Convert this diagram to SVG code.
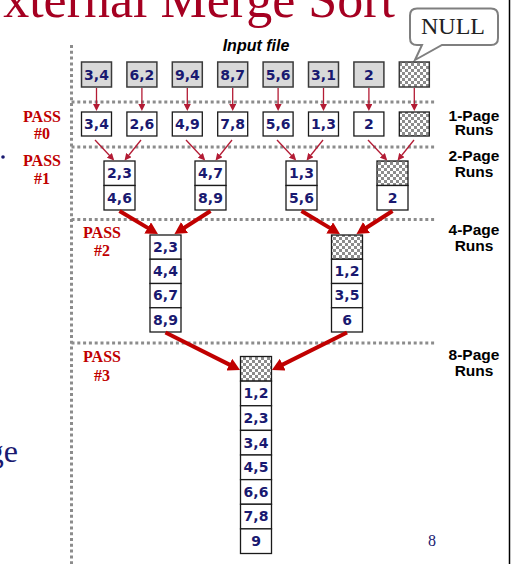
<svg xmlns="http://www.w3.org/2000/svg" width="516" height="564" viewBox="0 0 516 564">
<style>
.num{font-family:"DejaVu Sans",Verdana,sans-serif;font-weight:bold;font-size:14px;fill:#191970;text-anchor:middle}
.in{fill:#d9d9d9;stroke:#3a3a3a;stroke-width:1.5}
.cell{fill:#fff;stroke:#1a1a1a;stroke-width:1.3}
.chk{fill:url(#chk);stroke:#1a1a1a;stroke-width:1.3}
.dot{stroke:#8c8c8c;stroke-width:3;stroke-dasharray:3 2.8;fill:none}
.pass{font-family:"Liberation Serif","Times New Roman",serif;font-weight:bold;font-size:16px;fill:#C00000;text-anchor:middle}
.runs{font-family:"Liberation Sans",Arial,sans-serif;font-weight:bold;font-size:15.5px;fill:#000;text-anchor:middle}
.thin{stroke:#B31B34;stroke-width:1.3;fill:none;marker-end:url(#ah)}
.thick{stroke:#C00000;stroke-width:4;fill:none;marker-end:url(#AH)}
</style>
<defs>
<pattern id="chk" patternUnits="userSpaceOnUse" width="6" height="6">
<rect width="6" height="6" fill="#fff"/>
<rect width="3" height="3" fill="#8c8c8c"/>
<rect x="3" y="3" width="3" height="3" fill="#8c8c8c"/>
</pattern>
<marker id="ah" markerUnits="userSpaceOnUse" markerWidth="8" markerHeight="7" refX="5" refY="3.5" orient="auto">
<path d="M0,0 L7,3.5 L0,7 Z" fill="#B31B34"/>
</marker>
<marker id="AH" markerUnits="userSpaceOnUse" markerWidth="13" markerHeight="13" refX="4" refY="6.5" orient="auto">
<path d="M0,0 L12,6.5 L0,13 Z" fill="#C00000"/>
</marker>
</defs>

<g id="background">
<text x="395" y="17" text-anchor="end" font-family="Liberation Serif,'Times New Roman',serif" font-size="52" fill="#A50021">xternal Merge Sort</text>
<circle cx="3" cy="157" r="1.8" fill="#191970"/>
<text x="18" y="462" text-anchor="end" font-family="Liberation Serif,'Times New Roman',serif" font-size="32" fill="#191970">ge</text>
<text x="432" y="546" text-anchor="middle" font-family="Liberation Serif,'Times New Roman',serif" font-size="16" fill="#191970">8</text>
<line x1="509.5" y1="0" x2="509.5" y2="564" stroke="#000" stroke-width="1.5"/>
</g>

<g id="guides">
<line class="dot" x1="71.5" y1="45" x2="71.5" y2="564"/>
<line class="dot" x1="71.5" y1="102" x2="435" y2="102"/>
<line class="dot" x1="71.5" y1="147" x2="435" y2="147"/>
<line class="dot" x1="71.5" y1="219.5" x2="435" y2="219.5"/>
<line class="dot" x1="71.5" y1="343" x2="435" y2="343"/>
</g>

<g id="null-callout">
<path d="M417,8.5 H491 Q498,8.5 498,15.5 V38 Q498,45 491,45 H442 L415,60 L422,45 H417 Q410,45 410,38 V15.5 Q410,8.5 417,8.5 Z" fill="#fff" stroke="#7f7f7f" stroke-width="2"/>
<text x="453" y="33.5" text-anchor="middle" font-family="Liberation Serif,'Times New Roman',serif" font-size="24" fill="#222">NULL</text>
</g>

<g id="labels">
<text x="256" y="51" text-anchor="middle" font-family="Liberation Sans,Arial,sans-serif" font-weight="bold" font-style="italic" font-size="16">Input file</text>
<text class="pass" x="42" y="121.5">PASS</text><text class="pass" x="42" y="139">#0</text>
<text class="pass" x="42" y="165.5">PASS</text><text class="pass" x="42" y="183.5">#1</text>
<text class="pass" x="102" y="238">PASS</text><text class="pass" x="102" y="256">#2</text>
<text class="pass" x="102" y="362">PASS</text><text class="pass" x="102" y="380.5">#3</text>
<text class="runs" x="474" y="120.5">1-Page</text><text class="runs" x="474" y="134.5">Runs</text>
<text class="runs" x="474" y="161">2-Page</text><text class="runs" x="474" y="176.5">Runs</text>
<text class="runs" x="474" y="234.5">4-Page</text><text class="runs" x="474" y="251">Runs</text>
<text class="runs" x="474" y="360">8-Page</text><text class="runs" x="474" y="375.5">Runs</text>
</g>

<g id="input-file">
<rect class="in" x="81.5" y="62" width="30" height="25"/><text class="num" x="96.5" y="79.5">3,4</text>
<rect class="in" x="126.9" y="62" width="30" height="25"/><text class="num" x="141.9" y="79.5">6,2</text>
<rect class="in" x="172.3" y="62" width="30" height="25"/><text class="num" x="187.3" y="79.5">9,4</text>
<rect class="in" x="217.7" y="62" width="30" height="25"/><text class="num" x="232.7" y="79.5">8,7</text>
<rect class="in" x="263.1" y="62" width="30" height="25"/><text class="num" x="278.1" y="79.5">5,6</text>
<rect class="in" x="308.5" y="62" width="30" height="25"/><text class="num" x="323.5" y="79.5">3,1</text>
<rect class="in" x="353.9" y="62" width="30" height="25"/><text class="num" x="368.9" y="79.5">2</text>
<rect x="399.3" y="62" width="30" height="25" fill="url(#chk)" stroke="#3a3a3a" stroke-width="1.5"/>
</g>

<g id="pass0-runs">
<rect class="cell" x="81.5" y="112" width="30" height="24"/><text class="num" x="96.5" y="129">3,4</text>
<rect class="cell" x="126.9" y="112" width="30" height="24"/><text class="num" x="141.9" y="129">2,6</text>
<rect class="cell" x="172.3" y="112" width="30" height="24"/><text class="num" x="187.3" y="129">4,9</text>
<rect class="cell" x="217.7" y="112" width="30" height="24"/><text class="num" x="232.7" y="129">7,8</text>
<rect class="cell" x="263.1" y="112" width="30" height="24"/><text class="num" x="278.1" y="129">5,6</text>
<rect class="cell" x="308.5" y="112" width="30" height="24"/><text class="num" x="323.5" y="129">1,3</text>
<rect class="cell" x="353.9" y="112" width="30" height="24"/><text class="num" x="368.9" y="129">2</text>
<rect class="chk" x="399.3" y="112" width="30" height="24"/>
</g>

<g id="pass1-run1">
<rect class="cell" x="104" y="161" width="31" height="24.5"/><text class="num" x="119.5" y="178">2,3</text>
<rect class="cell" x="104" y="185.5" width="31" height="24.5"/><text class="num" x="119.5" y="202.5">4,6</text>
</g>
<g id="pass1-run2">
<rect class="cell" x="195" y="161" width="31" height="24.5"/><text class="num" x="210.5" y="178">4,7</text>
<rect class="cell" x="195" y="185.5" width="31" height="24.5"/><text class="num" x="210.5" y="202.5">8,9</text>
</g>
<g id="pass1-run3">
<rect class="cell" x="286" y="161" width="31" height="24.5"/><text class="num" x="301.5" y="178">1,3</text>
<rect class="cell" x="286" y="185.5" width="31" height="24.5"/><text class="num" x="301.5" y="202.5">5,6</text>
</g>
<g id="pass1-run4">
<rect class="chk" x="377" y="161" width="31" height="24.5"/>
<rect class="cell" x="377" y="185.5" width="31" height="24.5"/><text class="num" x="392.5" y="202.5">2</text>
</g>

<g id="pass2-run1">
<rect class="cell" x="150" y="235" width="31" height="24.25"/><text class="num" x="165.5" y="251.9">2,3</text>
<rect class="cell" x="150" y="259.25" width="31" height="24.25"/><text class="num" x="165.5" y="276.2">4,4</text>
<rect class="cell" x="150" y="283.5" width="31" height="24.25"/><text class="num" x="165.5" y="300.4">6,7</text>
<rect class="cell" x="150" y="307.75" width="31" height="24.25"/><text class="num" x="165.5" y="324.7">8,9</text>
</g>
<g id="pass2-run2">
<rect class="chk" x="331.5" y="235" width="31" height="24.25"/>
<rect class="cell" x="331.5" y="259.25" width="31" height="24.25"/><text class="num" x="347" y="276.2">1,2</text>
<rect class="cell" x="331.5" y="283.5" width="31" height="24.25"/><text class="num" x="347" y="300.4">3,5</text>
<rect class="cell" x="331.5" y="307.75" width="31" height="24.25"/><text class="num" x="347" y="324.7">6</text>
</g>

<g id="pass3-run">
<rect class="chk" x="240.5" y="356.5" width="31" height="24.625"/>
<rect class="cell" x="240.5" y="381.125" width="31" height="24.625"/><text class="num" x="256" y="398.2">1,2</text>
<rect class="cell" x="240.5" y="405.75" width="31" height="24.625"/><text class="num" x="256" y="422.8">2,3</text>
<rect class="cell" x="240.5" y="430.375" width="31" height="24.625"/><text class="num" x="256" y="447.5">3,4</text>
<rect class="cell" x="240.5" y="455" width="31" height="24.625"/><text class="num" x="256" y="472.1">4,5</text>
<rect class="cell" x="240.5" y="479.625" width="31" height="24.625"/><text class="num" x="256" y="496.7">6,6</text>
<rect class="cell" x="240.5" y="504.25" width="31" height="24.625"/><text class="num" x="256" y="521.3">7,8</text>
<rect class="cell" x="240.5" y="528.875" width="31" height="24.625"/><text class="num" x="256" y="546">9</text>
</g>

<g id="connectors">
<line class="thin" x1="96.5" y1="88" x2="96.5" y2="109"/>
<line class="thin" x1="141.9" y1="88" x2="141.9" y2="109"/>
<line class="thin" x1="187.3" y1="88" x2="187.3" y2="109"/>
<line class="thin" x1="232.7" y1="88" x2="232.7" y2="109"/>
<line class="thin" x1="278.1" y1="88" x2="278.1" y2="109"/>
<line class="thin" x1="323.5" y1="88" x2="323.5" y2="109"/>
<line class="thin" x1="368.9" y1="88" x2="368.9" y2="109"/>
<line class="thin" x1="414.3" y1="88" x2="414.3" y2="109"/>

<line class="thin" x1="95" y1="140" x2="112.8" y2="159"/>
<line class="thin" x1="141" y1="140" x2="125.8" y2="159"/>
<line class="thin" x1="186" y1="140" x2="203.8" y2="159"/>
<line class="thin" x1="232" y1="140" x2="216.8" y2="159"/>
<line class="thin" x1="277" y1="140" x2="294.8" y2="159"/>
<line class="thin" x1="323" y1="140" x2="307.8" y2="159"/>
<line class="thin" x1="368" y1="140" x2="385.8" y2="159"/>
<line class="thin" x1="414" y1="140" x2="398.8" y2="159"/>

<line class="thick" x1="119.5" y1="211" x2="151.1" y2="229.9"/>
<line class="thick" x1="210.5" y1="211" x2="181.2" y2="229.7"/>
<line class="thick" x1="301.5" y1="211" x2="333.1" y2="229.9"/>
<line class="thick" x1="392.5" y1="211" x2="363.2" y2="229.7"/>
<line class="thick" x1="165.5" y1="332.5" x2="232.9" y2="366.4"/>
<line class="thick" x1="347" y1="332.5" x2="279.1" y2="366.4"/>
</g>
</svg>
